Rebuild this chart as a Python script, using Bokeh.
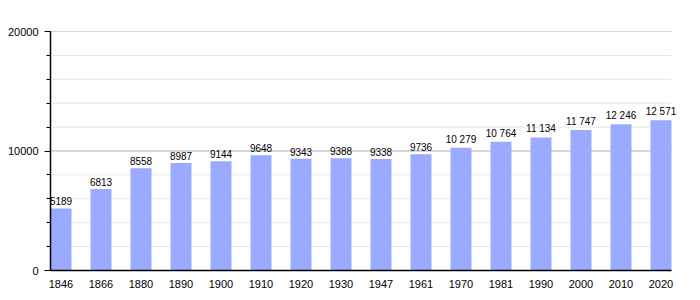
from bokeh.plotting import figure
from bokeh.models import ColumnDataSource, FixedTicker, Range1d, LabelSet
from bokeh.core.properties import value
from bokeh.embed import file_html
from bokeh.resources import INLINE

years = ["1846", "1866", "1880", "1890", "1900", "1910", "1920", "1930", "1947",
         "1961", "1970", "1981", "1990", "2000", "2010", "2020"]
population = [5189, 6813, 8558, 8987, 9144, 9648, 9343, 9388, 9338,
              9736, 10279, 10764, 11134, 11747, 12246, 12571]
pop_labels = ["5189", "6813", "8558", "8987", "9144", "9648", "9343", "9388", "9338",
              "9736", "10 279", "10 764", "11 134", "11 747", "12 246", "12 571"]
y_ticks = [0, 10000, 20000]
y_minor = [2000, 4000, 6000, 8000, 12000, 14000, 16000, 18000]
y_major_grid = [10000, 20000]

FONT = "Liberation Sans"
BAR_W = 0.525
X_END = 15.525
xs = [i + BAR_W / 2 for i in range(len(years))]

src = ColumnDataSource(dict(x=xs, top=population, lab=pop_labels))

p = figure(width=700, height=300, frame_width=640, frame_height=239,
           min_border_left=50, min_border_right=10, min_border_top=31, min_border_bottom=30,
           x_range=Range1d(0, 16.0), y_range=Range1d(0, 20000),
           output_backend="svg", toolbar_location=None, tools="")
p.outline_line_color = None
p.background_fill_color = "white"
p.border_fill_color = "white"

# grid lines limited to the plotting width
p.segment(x0=[0] * len(y_minor), x1=[X_END] * len(y_minor), y0=y_minor, y1=y_minor,
          line_color="#e6e6e6", line_width=1)
p.segment(x0=[0] * len(y_major_grid), x1=[X_END] * len(y_major_grid),
          y0=y_major_grid, y1=y_major_grid, line_color="#b0b0b0", line_width=1)

p.vbar(x="x", top="top", width=BAR_W, bottom=0, source=src,
       fill_color="#99aaff", line_color=None)

labels = LabelSet(x="x", y="top", text="lab", source=src, text_align="center",
                  text_baseline="bottom", y_offset=3, text_font=value(FONT),
                  text_font_size=value("10px"), text_color=value("black"))
p.add_layout(labels)

# y axis
p.yaxis.ticker = FixedTicker(ticks=y_ticks, minor_ticks=list(range(0, 20001, 2000)))
p.yaxis.axis_line_color = "black"
p.yaxis.axis_line_width = 1.5
p.yaxis.major_tick_out = 6
p.yaxis.major_tick_in = 0
p.yaxis.minor_tick_out = 4
p.yaxis.minor_tick_in = 0
p.yaxis.major_tick_line_color = "black"
p.yaxis.minor_tick_line_color = "black"
p.yaxis.major_label_text_font = FONT
p.yaxis.major_label_text_font_size = "11px"
p.yaxis.major_label_text_color = "black"
p.yaxis.major_label_standoff = 6
p.yaxis.formatter.use_scientific = False

# x axis
p.xaxis.ticker = FixedTicker(ticks=xs)
p.xaxis.bounds = (0, X_END)
p.xaxis.major_label_overrides = {x: y for x, y in zip(xs, years)}
p.xaxis.axis_line_color = "black"
p.xaxis.axis_line_width = 1.5
p.xaxis.major_tick_line_color = None
p.xaxis.minor_tick_line_color = None
p.xaxis.major_label_text_font = FONT
p.xaxis.major_label_text_font_size = "11px"
p.xaxis.major_label_text_color = "black"
p.xaxis.major_label_standoff = 3

p.xgrid.grid_line_color = None
p.ygrid.grid_line_color = None

open("out.html", "w").write(file_html(p, INLINE))
